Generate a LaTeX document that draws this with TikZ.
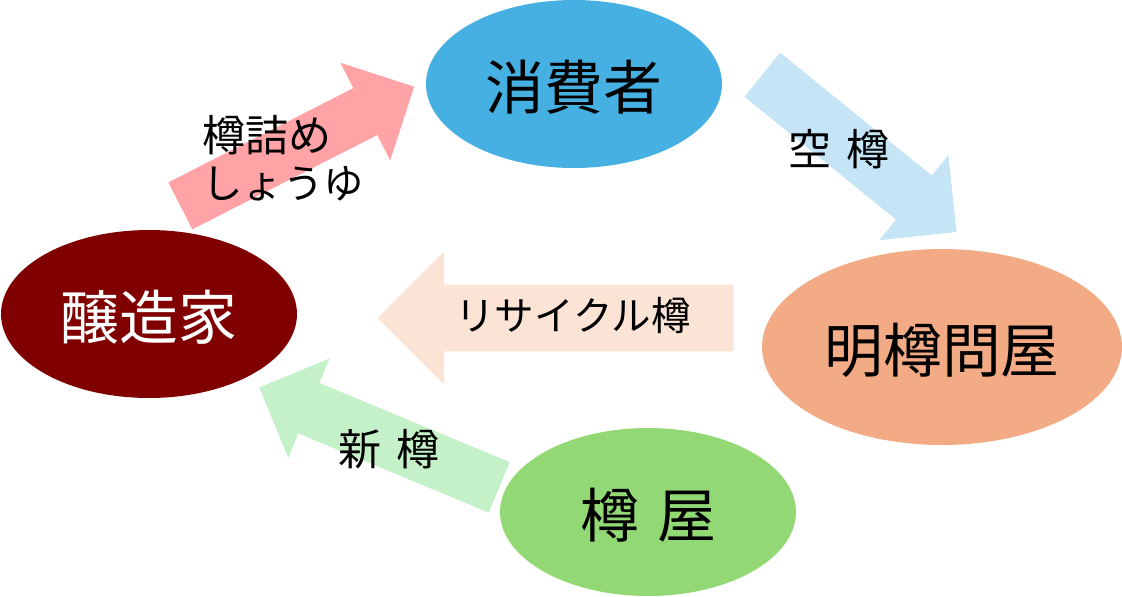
\documentclass[tikz,border=0pt]{standalone}
\usepackage{fontspec}
\setmainfont{Noto Sans CJK JP}
\usepackage{xcolor}
\usetikzlibrary{shapes.geometric, shapes.arrows}
\definecolor{consumerblue}{RGB}{69, 176, 225}
\definecolor{brewermaroon}{RGB}{128, 0, 0}
\definecolor{dealerorange}{RGB}{243, 171, 134}
\definecolor{coopergreen}{RGB}{146, 217, 117}
\definecolor{shoyupink}{RGB}{255, 163, 166}
\definecolor{emptyblue}{RGB}{197, 229, 247}
\definecolor{recyclepeach}{RGB}{251, 227, 214}
\definecolor{newgreen}{RGB}{197, 241, 201}
\begin{document}
\begin{tikzpicture}[
        x=0.02cm, y=-0.02cm,
        party/.style={ellipse, inner sep=0pt, minimum width=5.92cm, minimum height=3.36cm, text height=31pt, text depth=2pt, font=\fontsize{33.5}{34}\selectfont},
        flow/.style={single arrow, inner sep=0pt, single arrow head extend=#1, single arrow head indent=0pt, anchor=tail},
        flowtext/.style={align=left, inner sep=0pt, font=\fontsize{24.5}{27}\selectfont}
    ]
        \useasboundingbox (0,0) rectangle (1122,596);

        % Flow arrows
        \node[flow=0.57cm, fill=shoyupink, minimum height=5.25cm, rotate=27] (shoyu) at (180,206) {\rule{0pt}{1.04cm}};
        \node[flow=0.53cm, fill=emptyblue, minimum height=5cm, rotate=-39] (empty) at (762,74.5) {\rule{0pt}{1.12cm}};
        \node[flow=0.66cm, fill=recyclepeach, minimum height=7.12cm, rotate=180] (recycle) at (734,318) {\rule{0pt}{1.32cm}};
        \node[flow=0.53cm, fill=newgreen, minimum height=5.2cm, rotate=157.4] (newbarrel) at (499.5,487.5) {\rule{0pt}{1.08cm}};

        % Parties
        \node[party, fill=consumerblue] (consumer) at (574,84) {消費者};
        \node[party, fill=brewermaroon, text=white] (brewer) at (149,314) {醸造家};
        \node[party, fill=dealerorange, minimum width=7.2cm, minimum height=3.92cm] (dealer) at (942,347) {明樽問屋};
        \node[party, fill=coopergreen] (cooper) at (648,512) {樽 \hspace{0.1cm}屋};

        % Flow labels
        \node[flowtext] (shoyulabel) at (283,158) {樽詰め\\{\fontsize{23}{27}\selectfont しょうゆ}};
        \node[flowtext] (emptylabel) at (839,149) {空 \hspace{0.12cm}樽};
        \node[flowtext, font=\fontsize{22.5}{27}\selectfont] (recyclelabel) at (573,315) {リサイクル樽};
        \node[flowtext] (newlabel) at (389,449) {新 \hspace{0.12cm}樽};
    \end{tikzpicture}
\end{document}
